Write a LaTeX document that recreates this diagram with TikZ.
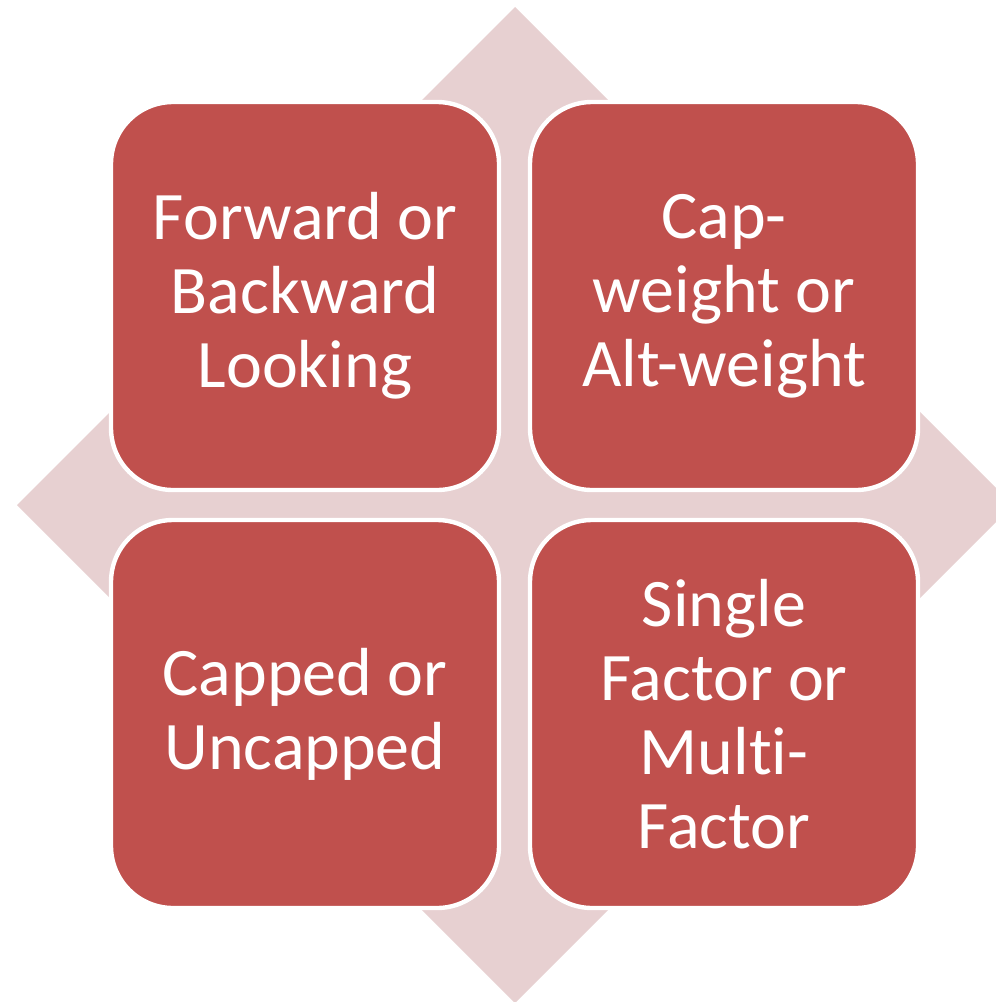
\documentclass[tikz,border=0pt]{standalone}
\usepackage{fontspec}
\setmainfont[Ligatures=NoCommon]{Carlito}
\definecolor{boxred}{RGB}{192,80,77}
\definecolor{backpink}{RGB}{231,208,209}
\tikzset{
  quadbox/.style={rectangle, rounded corners=31pt, draw=white, line width=2.2pt,
    fill=boxred, text=white, align=center, inner sep=0pt,
    minimum width=194pt, minimum height=194pt,
    font=\fontsize{34}{37}\selectfont}
}

\begin{document}
\begin{tikzpicture}[x=0.5pt,y=-0.5pt]
            \clip (0,0) rectangle (996,1002);

            % Diamond behind the four boxes
            \fill[backpink] (515,7) -- (1013,505) -- (515,1003) -- (17,505) -- cycle;

            % Boxes
            \foreach \name/\x/\y/\lab in {tl/305/296/{Forward or\\Backward\\Looking},
                tr/724/296/{Cap-\\weight or\\Alt-weight},
                bl/305/714/{Capped or\\Uncapped},
                br/724/714/{Single\\Factor or\\Multi-\\Factor}}{
            \node[quadbox] (\name) at (\x,\y) {\lab};
            }
        \end{tikzpicture}
\end{document}
